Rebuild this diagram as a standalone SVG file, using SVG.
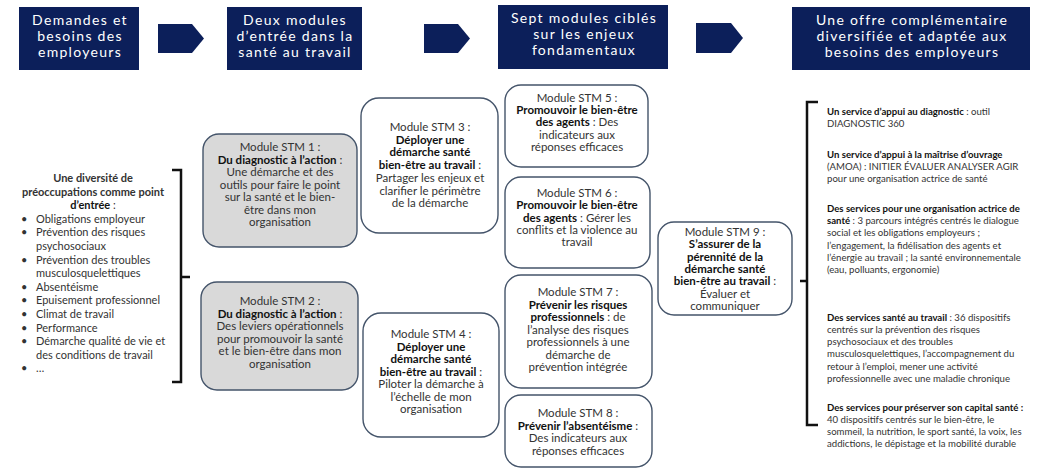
<svg xmlns="http://www.w3.org/2000/svg" width="1043" height="471" viewBox="0 0 1043 471">
<style>
.hd{fill:#0c1f5a}
.ht{font-family:Lato,"Liberation Sans",sans-serif;font-size:14px;fill:#fff;text-anchor:middle;letter-spacing:1.3px}
.bx{stroke:#44546a;stroke-width:1.4}
.g{fill:#d9d9d9}
.w{fill:#fff}
.m{font-family:Lato,"Liberation Sans",sans-serif;font-size:11.5px;fill:#333;text-anchor:middle}
.b{font-weight:bold;fill:#111}
.l{font-family:Lato,"Liberation Sans",sans-serif;font-size:11px;fill:#333}
.r{font-family:Lato,"Liberation Sans",sans-serif;font-size:9.6px;fill:#333}
.br{fill:none;stroke:#111;stroke-width:2.5}
</style>
<rect width="1043" height="471" fill="#fff"/>
<g id="header1"><rect class="hd" x="19" y="7" width="120" height="63"/>
<text class="ht" x="80" y="25">Demandes et</text><text class="ht" x="80" y="41">besoins des</text><text class="ht" x="80" y="57">employeurs</text></g>
<g id="header2"><rect class="hd" x="227" y="7" width="135" height="63"/>
<text class="ht" x="295" y="25">Deux modules</text><text class="ht" x="295" y="41">d’entrée dans la</text><text class="ht" x="295" y="57">santé au travail</text></g>
<g id="header3"><rect class="hd" x="498" y="5" width="170" height="64"/>
<text class="ht" x="584" y="23">Sept modules ciblés</text><text class="ht" x="584" y="39">sur les enjeux</text><text class="ht" x="584" y="55">fondamentaux</text></g>
<g id="header4"><rect class="hd" x="792" y="7" width="238" height="63"/>
<text class="ht" x="912" y="25">Une offre complémentaire</text><text class="ht" x="912" y="41">diversifiée et adaptée aux</text><text class="ht" x="912" y="57">besoins des employeurs</text></g>
<g id="connectors">
<polygon class="hd" points="158,24 192,24 204,38.5 192,53 158,53"/>
<polygon class="hd" points="424,24 458,24 470,38.5 458,53 424,53"/>
<polygon class="hd" points="696,23 731,23 743,38 731,53 696,53"/>
<path class="br" d="M172,170 H181 V382 H172 M181,277 H190"/>
<path class="br" d="M818,102 H807 V425 H818 M807,281 H800"/>
</g>
<g id="needs">
<text class="l b" x="93" y="182" text-anchor="middle">Une diversité de</text>
<text class="l b" x="93" y="195.6" text-anchor="middle">préoccupations comme point</text>
<text class="l" x="93" y="209.2" text-anchor="middle"><tspan class="b">d’entrée</tspan> :</text>
<g class="l">
<text x="21" y="222.8">•</text><text x="36" y="222.8">Obligations employeur</text>
<text x="21" y="236.4">•</text><text x="36" y="236.4">Prévention des risques</text>
<text x="36" y="250">psychosociaux</text>
<text x="21" y="263.6">•</text><text x="36" y="263.6">Prévention des troubles</text>
<text x="36" y="277.2">musculosquelettiques</text>
<text x="21" y="290.8">•</text><text x="36" y="290.8">Absentéisme</text>
<text x="21" y="304.4">•</text><text x="36" y="304.4">Epuisement professionnel</text>
<text x="21" y="318">•</text><text x="36" y="318">Climat de travail</text>
<text x="21" y="331.6">•</text><text x="36" y="331.6">Performance</text>
<text x="21" y="345.2">•</text><text x="36" y="345.2">Démarche qualité de vie et</text>
<text x="36" y="358.8">des conditions de travail</text>
<text x="21" y="372.4">•</text><text x="36" y="372.4">…</text>
</g>
</g>
<g id="stm1"><rect class="bx g" x="203" y="134" width="154" height="113" rx="16"/>
<text class="m" x="280" y="151">Module STM 1 :</text>
<text class="m" x="280" y="163.5"><tspan class="b">Du diagnostic à l’action</tspan> :</text>
<text class="m" x="280" y="176">Une démarche et des</text>
<text class="m" x="280" y="188.5">outils pour faire le point</text>
<text class="m" x="280" y="201">sur la santé et le bien-</text>
<text class="m" x="280" y="213.5">être dans mon</text>
<text class="m" x="280" y="226">organisation</text></g>
<g id="stm2"><rect class="bx g" x="201" y="282" width="157" height="108" rx="16"/>
<text class="m" x="280" y="305">Module STM 2 :</text>
<text class="m" x="280" y="317.5"><tspan class="b">Du diagnostic à l’action</tspan> :</text>
<text class="m" x="280" y="330">Des leviers opérationnels</text>
<text class="m" x="280" y="342.5">pour promouvoir la santé</text>
<text class="m" x="280" y="355">et le bien-être dans mon</text>
<text class="m" x="280" y="367.5">organisation</text></g>
<g id="stm3"><rect class="bx w" x="361" y="98" width="137" height="135" rx="18"/>
<text class="m" x="430" y="131">Module STM 3 :</text>
<text class="m b" x="430" y="143.5">Déployer une</text>
<text class="m b" x="430" y="156">démarche santé</text>
<text class="m" x="430" y="169"><tspan class="b">bien-être au travail</tspan> :</text>
<text class="m" x="430" y="181.5">Partager les enjeux et</text>
<text class="m" x="430" y="194.5">clarifier le périmètre</text>
<text class="m" x="430" y="207">de la démarche</text></g>
<g id="stm4"><rect class="bx w" x="363" y="313" width="136" height="124" rx="18"/>
<text class="m" x="431" y="338">Module STM 4 :</text>
<text class="m b" x="431" y="351">Déployer une</text>
<text class="m b" x="431" y="363">démarche santé</text>
<text class="m" x="431" y="376"><tspan class="b">bien-être au travail</tspan> :</text>
<text class="m" x="431" y="388">Piloter la démarche à</text>
<text class="m" x="431" y="401">l’échelle de mon</text>
<text class="m" x="431" y="413">organisation</text></g>
<g id="stm5"><rect class="bx w" x="505" y="85" width="143" height="82" rx="16"/>
<text class="m" x="577" y="102">Module STM 5 :</text>
<text class="m b" x="577" y="114">Promouvoir le bien-être</text>
<text class="m" x="577" y="126"><tspan class="b">des agents</tspan> : Des</text>
<text class="m" x="577" y="138.5">indicateurs aux</text>
<text class="m" x="577" y="151">réponses efficaces</text></g>
<g id="stm6"><rect class="bx w" x="505" y="177" width="145" height="91" rx="16"/>
<text class="m" x="577" y="197">Module STM 6 :</text>
<text class="m b" x="577" y="209.3">Promouvoir le bien-être</text>
<text class="m" x="577" y="221.6"><tspan class="b">des agents</tspan> : Gérer les</text>
<text class="m" x="577" y="234">conflits et la violence au</text>
<text class="m" x="577" y="246.3">travail</text></g>
<g id="stm7"><rect class="bx w" x="505" y="275" width="147" height="113" rx="16"/>
<text class="m" x="578" y="296">Module STM 7 :</text>
<text class="m b" x="578" y="308.5">Prévenir les risques</text>
<text class="m" x="578" y="321"><tspan class="b">professionnels</tspan> : de</text>
<text class="m" x="578" y="333.5">l’analyse des risques</text>
<text class="m" x="578" y="346">professionnels à une</text>
<text class="m" x="578" y="358.5">démarche de</text>
<text class="m" x="578" y="371">prévention intégrée</text></g>
<g id="stm8"><rect class="bx w" x="505" y="395" width="147" height="72" rx="16"/>
<text class="m" x="578" y="417">Module STM 8 :</text>
<text class="m" x="578" y="429.5"><tspan class="b">Prévenir l’absentéisme</tspan> :</text>
<text class="m" x="578" y="442">Des indicateurs aux</text>
<text class="m" x="578" y="454.5">réponses efficaces</text></g>
<g id="stm9"><rect class="bx w" x="658" y="222" width="134" height="93" rx="16"/>
<text class="m" x="725" y="236">Module STM 9 :</text>
<text class="m b" x="725" y="248.3">S’assurer de la</text>
<text class="m b" x="725" y="260.6">pérennité de la</text>
<text class="m b" x="725" y="272.9">démarche santé</text>
<text class="m" x="725" y="285.2"><tspan class="b">bien-être au travail</tspan> :</text>
<text class="m" x="725" y="297.5">Évaluer et</text>
<text class="m" x="725" y="309.8">communiquer</text></g>
<g id="offer" class="r">
<text x="827" y="114.5"><tspan class="b">Un service d’appui au diagnostic</tspan> : outil</text>
<text x="827" y="126.5">DIAGNOSTIC 360</text>
<text x="827" y="157.5" class="b">Un service d’appui à la maîtrise d’ouvrage</text>
<text x="827" y="169.5">(AMOA) : INITIER ÉVALUER ANALYSER AGIR</text>
<text x="827" y="181.5">pour une organisation actrice de santé</text>
<text x="827" y="211.5" class="b">Des services pour une organisation actrice de</text>
<text x="827" y="224"><tspan class="b">santé</tspan> : 3 parcours intégrés centrés le dialogue</text>
<text x="827" y="236.3">social et les obligations employeurs ;</text>
<text x="827" y="248.6">l’engagement, la fidélisation des agents et</text>
<text x="827" y="261">l’énergie au travail ; la santé environnementale</text>
<text x="827" y="273.3">(eau, polluants, ergonomie)</text>
<text x="827" y="320.5"><tspan class="b">Des services santé au travail</tspan> :  36 dispositifs</text>
<text x="827" y="332.8">centrés sur la prévention des risques</text>
<text x="827" y="345.1">psychosociaux et des troubles</text>
<text x="827" y="357.4">musculosquelettiques, l’accompagnement du</text>
<text x="827" y="369.7">retour à l’emploi, mener une activité</text>
<text x="827" y="382">professionnelle avec une maladie chronique</text>
<text x="827" y="410.5" class="b">Des services pour préserver son capital santé :</text>
<text x="827" y="422.8">40 dispositifs centrés sur le bien-être, le</text>
<text x="827" y="435.1">sommeil, la nutrition, le sport santé, la voix, les</text>
<text x="827" y="447.4">addictions, le dépistage et la mobilité durable</text>
</g>
</svg>
